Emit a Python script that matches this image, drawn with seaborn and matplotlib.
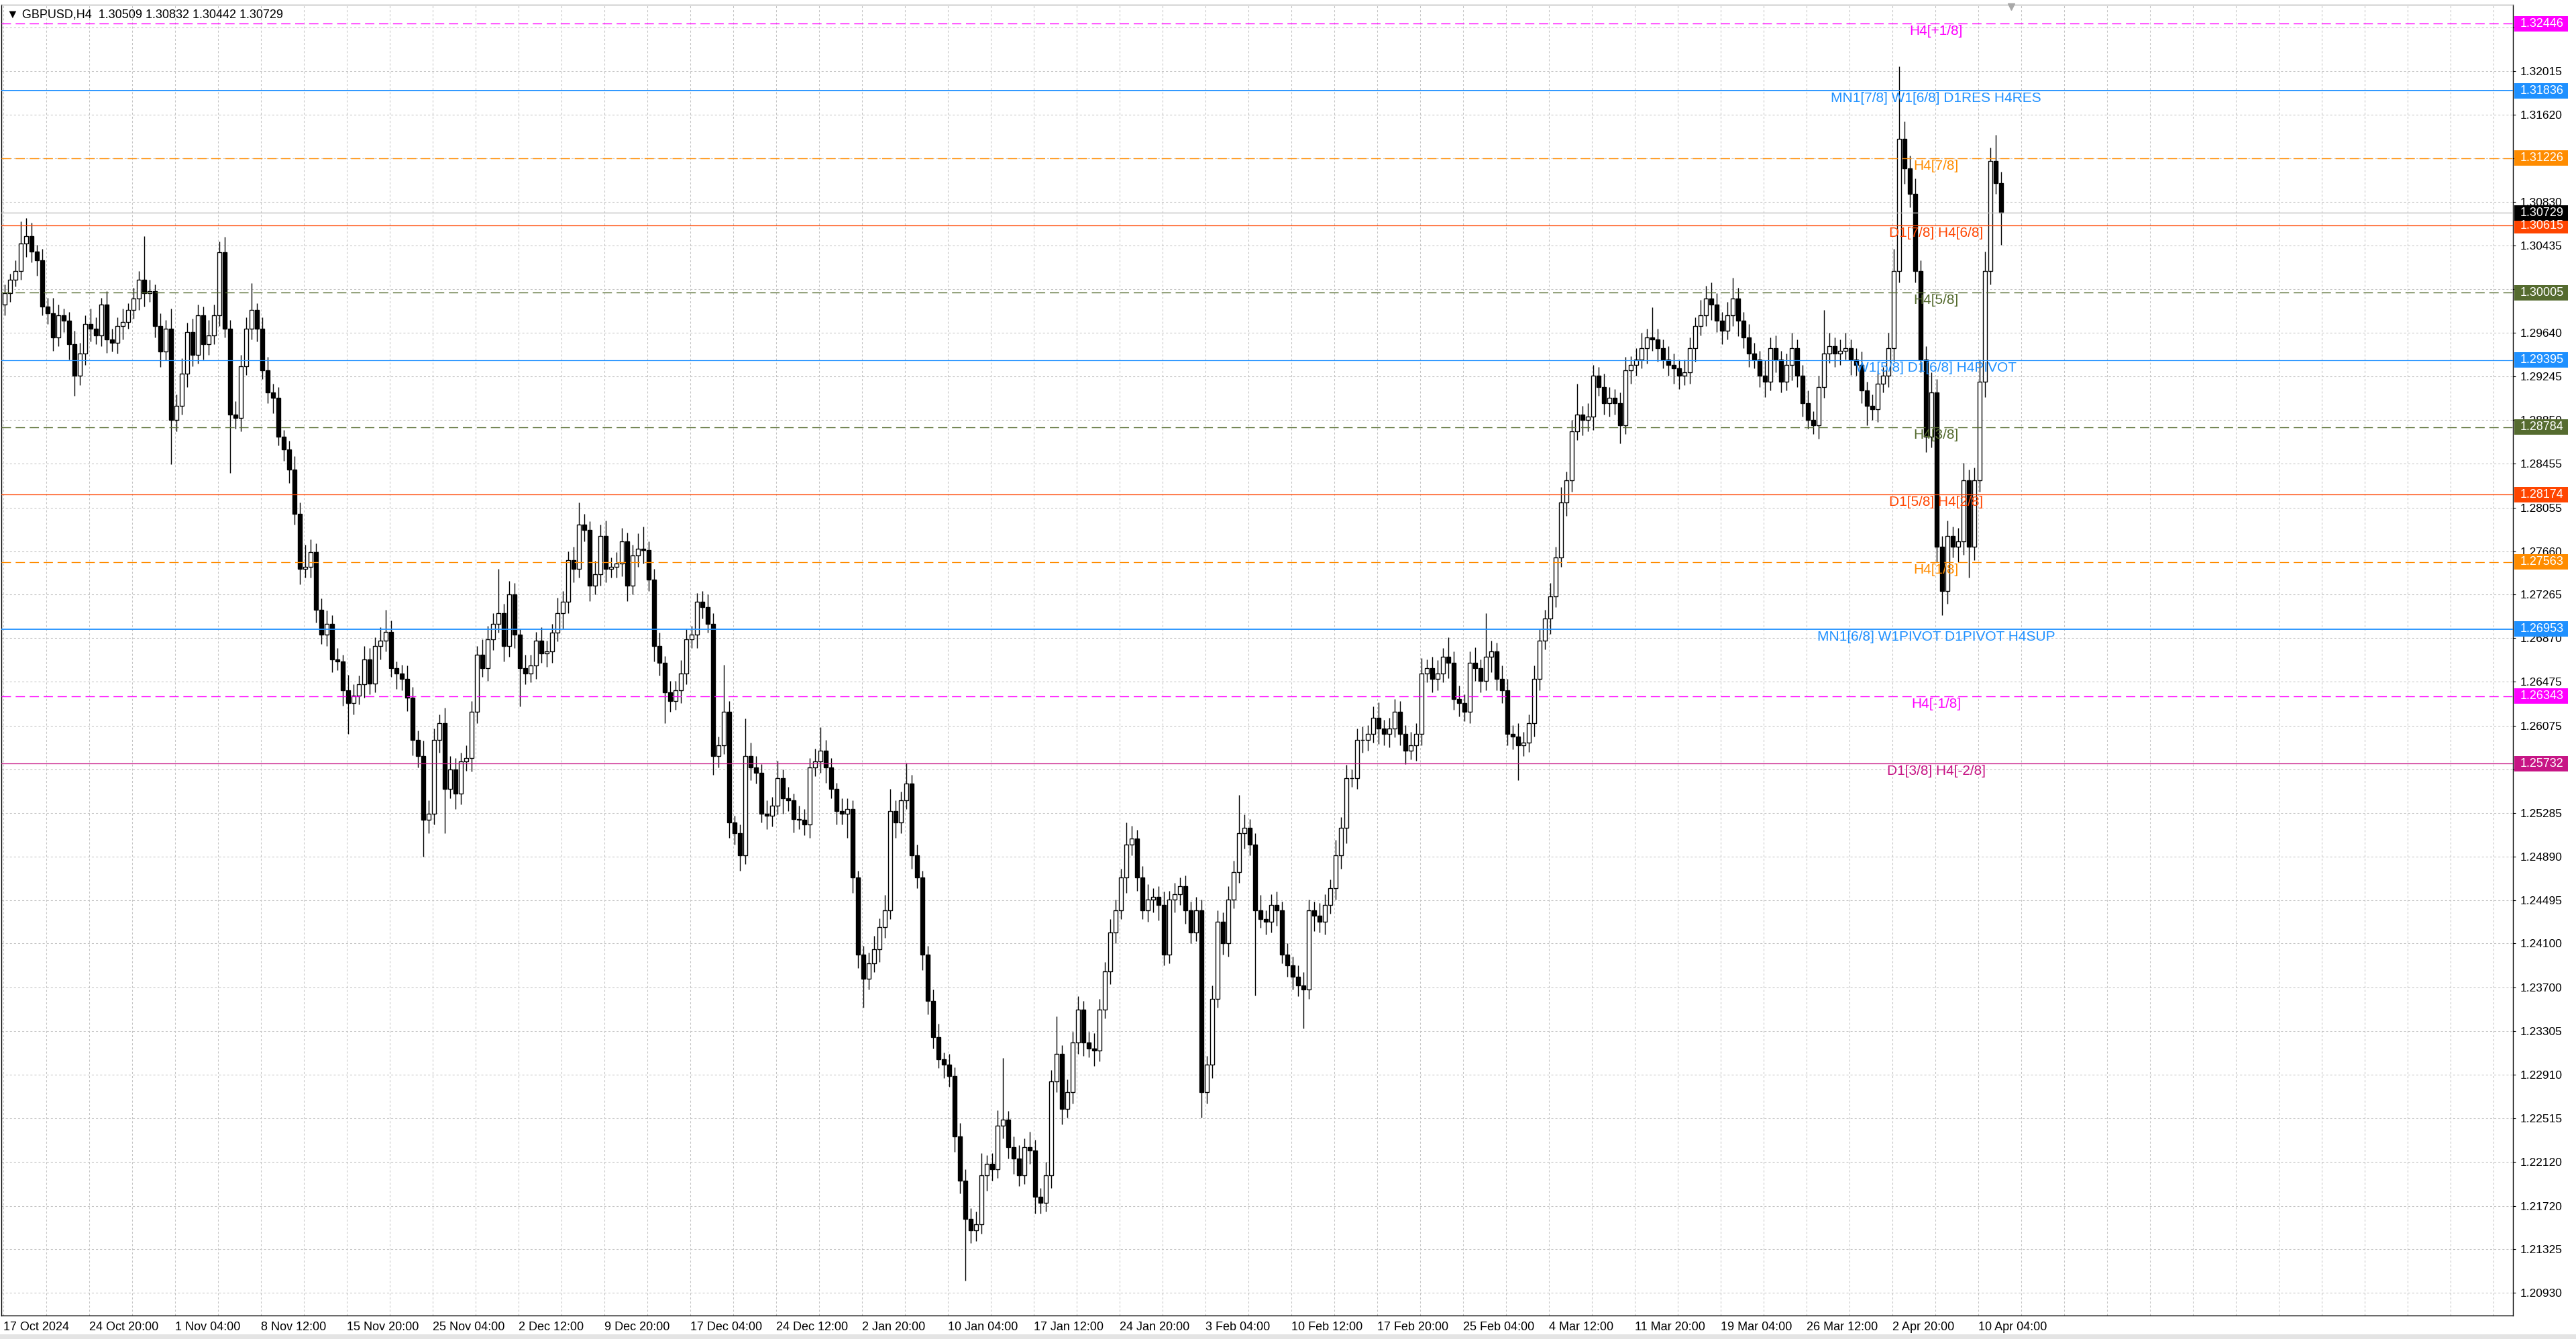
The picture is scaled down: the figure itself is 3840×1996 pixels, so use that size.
import matplotlib
matplotlib.use("Agg")
import matplotlib.pyplot as plt
import matplotlib.transforms as mtransforms
from matplotlib.patches import Rectangle
import numpy as np
import pandas as pd
import seaborn as sns

# GBPUSD, candles of 8 hours, closes in 0.0001 above 1.2000
first_open = 990
close_pips = [
    1000, 1012, 1020, 1045, 1052, 1038, 1030, 988, 982, 960, 980, 975, 954, 925, 945, 972, 968, 962, 990, 958,
    955, 970, 974, 985, 995, 1012, 1000, 1002, 970, 947, 968, 885, 898, 927, 965, 944, 980, 954, 962, 980,
    1037, 968, 890, 887, 934, 968, 985, 968, 930, 910, 905, 870, 858, 840, 800, 750, 752, 765, 713, 690,
    700, 668, 666, 640, 628, 635, 645, 668, 646, 680, 685, 693, 660, 655, 650, 633, 595, 580, 522, 528,
    595, 610, 550, 568, 546, 575, 578, 620, 672, 660, 686, 700, 710, 680, 727, 690, 660, 655, 662, 685,
    673, 675, 692, 710, 720, 758, 750, 790, 785, 735, 745, 780, 750, 752, 755, 775, 735, 762, 768, 767,
    740, 680, 665, 638, 630, 640, 655, 686, 690, 720, 715, 700, 580, 590, 620, 520, 510, 490, 580, 570,
    565, 528, 526, 535, 560, 542, 540, 523, 522, 518, 570, 575, 585, 570, 550, 530, 528, 532, 470, 400,
    378, 392, 405, 425, 440, 530, 520, 540, 555, 490, 470, 400, 358, 325, 305, 300, 290, 235, 195, 160,
    150, 155, 200, 210, 205, 245, 250, 225, 215, 200, 225, 222, 180, 175, 200, 285, 310, 260, 275, 320,
    350, 320, 315, 313, 350, 385, 420, 440, 470, 500, 505, 470, 440, 450, 452, 445, 400, 450, 455, 462,
    440, 420, 440, 275, 300, 360, 430, 410, 450, 475, 510, 515, 500, 440, 432, 430, 445, 440, 400, 390,
    380, 372, 368, 440, 435, 430, 445, 460, 490, 515, 560, 560, 595, 595, 600, 615, 605, 600, 605, 620,
    600, 585, 590, 600, 655, 660, 650, 655, 670, 665, 632, 628, 620, 665, 660, 648, 670, 675, 650, 640,
    600, 598, 590, 592, 610, 650, 685, 705, 725, 760, 810, 830, 875, 890, 885, 888, 925, 915, 900, 905,
    900, 880, 930, 935, 940, 950, 960, 958, 950, 940, 935, 932, 925, 928, 950, 970, 980, 995, 990, 975,
    966, 980, 995, 975, 960, 945, 940, 925, 920, 950, 940, 920, 935, 950, 925, 900, 885, 880, 915, 945,
    952, 945, 948, 950, 940, 935, 912, 898, 895, 918, 925, 950, 1020, 1140, 1113, 1090, 1020, 940, 870, 910,
    770, 730, 780, 770, 775, 830, 770, 830, 920, 1020, 1120, 1100, 1073,
]
# upper / lower shadows in pips
wick_up = [
    8, 6, 10, 20, 16, 12, 6, 10, 8, 14, 10, 6, 8, 12, 10, 8, 14, 10, 6, 12,
    10, 8, 12, 6, 10, 8, 40, 10, 6, 12, 8, 18, 10, 14, 8, 12, 10, 8, 14, 10,
    10, 14, 8, 12, 10, 10, 24, 6, 10, 12, 8, 10, 6, 8, 12, 10, 20, 12, 8, 10,
    12, 8, 10, 6, 14, 10, 8, 12, 10, 8, 12, 20, 10, 6, 8, 12, 10, 8, 14, 12,
    10, 8, 14, 12, 10, 8, 12, 10, 8, 14, 12, 10, 40, 8, 12, 10, 6, 12, 10, 8,
    12, 10, 8, 14, 10, 8, 12, 20, 10, 8, 12, 10, 14, 8, 10, 12, 8, 10, 14, 20,
    8, 10, 12, 6, 10, 8, 12, 10, 8, 8, 10, 12, 10, 8, 43, 10, 6, 8, 34, 12,
    10, 8, 12, 8, 16, 8, 10, 6, 12, 10, 8, 12, 21, 10, 8, 6, 12, 10, 8, 6,
    8, 10, 12, 8, 14, 20, 10, 8, 19, 8, 10, 6, 8, 10, 12, 6, 10, 8, 12, 10,
    10, 12, 20, 8, 10, 14, 56, 8, 10, 12, 8, 14, 10, 8, 12, 10, 34, 8, 12, 10,
    12, 8, 10, 14, 10, 8, 12, 10, 8, 20, 12, 8, 10, 14, 8, 10, 12, 8, 10, 8,
    10, 8, 12, 10, 8, 12, 10, 8, 12, 10, 35, 12, 8, 10, 14, 8, 10, 12, 8, 10,
    8, 10, 12, 10, 8, 12, 10, 8, 14, 10, 12, 8, 10, 12, 8, 10, 14, 8, 10, 12,
    10, 8, 12, 10, 14, 8, 10, 12, 8, 18, 10, 12, 8, 10, 14, 8, 40, 10, 8, 12,
    10, 8, 12, 10, 8, 12, 10, 8, 12, 10, 14, 8, 10, 28, 8, 12, 10, 8, 12, 10,
    8, 10, 12, 8, 10, 14, 8, 27, 10, 8, 12, 10, 8, 12, 10, 8, 14, 12, 15, 10,
    8, 12, 19, 10, 8, 12, 10, 8, 14, 10, 12, 8, 10, 14, 8, 10, 12, 8, 10, 40,
    12, 8, 10, 14, 8, 10, 12, 8, 10, 12, 8, 14, 20, 66, 16, 12, 14, 10, 12, 18,
    12, 10, 14, 8, 12, 16, 10, 12, 20, 18, 12, 24, 10,
]
wick_dn = [
    10, 8, 6, 8, 12, 10, 14, 8, 10, 12, 8, 10, 14, 18, 8, 10, 12, 8, 10, 12,
    8, 10, 12, 6, 8, 10, 12, 8, 10, 14, 8, 40, 10, 8, 12, 10, 8, 14, 10, 8,
    10, 8, 53, 10, 12, 8, 10, 12, 8, 10, 14, 8, 10, 12, 10, 14, 8, 10, 12, 8,
    10, 12, 8, 14, 28, 10, 8, 12, 10, 8, 12, 10, 8, 14, 10, 12, 14, 10, 33, 12,
    10, 12, 40, 8, 14, 10, 8, 12, 10, 8, 12, 10, 8, 14, 10, 12, 35, 10, 8, 12,
    8, 12, 10, 8, 14, 10, 12, 8, 10, 14, 8, 10, 12, 8, 10, 12, 14, 8, 10, 12,
    10, 14, 12, 28, 10, 8, 12, 10, 8, 12, 10, 8, 17, 10, 8, 14, 10, 14, 8, 12,
    10, 8, 12, 10, 8, 14, 10, 12, 8, 10, 12, 8, 10, 14, 8, 12, 10, 22, 14, 12,
    26, 10, 8, 12, 10, 8, 14, 10, 8, 12, 10, 14, 12, 10, 8, 12, 10, 14, 12, 56,
    12, 10, 8, 14, 10, 8, 12, 10, 14, 10, 8, 12, 15, 10, 8, 12, 10, 14, 8, 10,
    10, 12, 8, 14, 10, 8, 12, 10, 8, 14, 10, 12, 8, 10, 12, 14, 10, 8, 12, 10,
    12, 10, 8, 23, 10, 12, 8, 10, 12, 8, 10, 14, 10, 77, 8, 12, 10, 14, 8, 10,
    12, 10, 35, 8, 14, 10, 12, 8, 10, 12, 14, 8, 10, 12, 10, 8, 14, 10, 12, 8,
    10, 12, 8, 14, 10, 8, 12, 10, 8, 14, 10, 12, 8, 10, 12, 10, 8, 14, 10, 12,
    10, 12, 32, 10, 8, 12, 10, 8, 14, 10, 8, 12, 10, 8, 14, 10, 12, 8, 10, 12,
    10, 16, 8, 12, 10, 8, 14, 10, 12, 8, 10, 14, 12, 8, 10, 12, 8, 10, 14, 10,
    12, 8, 10, 14, 10, 12, 8, 10, 14, 8, 12, 10, 8, 14, 10, 12, 8, 8, 12, 10,
    8, 12, 10, 8, 14, 10, 12, 18, 10, 12, 8, 10, 12, 10, 14, 12, 10, 12, 14, 10,
    14, 22, 12, 10, 14, 12, 28, 12, 10, 14, 12, 10, 29,
]

time_labels = ["17 Oct 2024", "24 Oct 20:00", "1 Nov 04:00", "8 Nov 12:00", "15 Nov 20:00",
               "25 Nov 04:00", "2 Dec 12:00", "9 Dec 20:00", "17 Dec 04:00", "24 Dec 12:00",
               "2 Jan 20:00", "10 Jan 04:00", "17 Jan 12:00", "24 Jan 20:00", "3 Feb 04:00",
               "10 Feb 12:00", "17 Feb 20:00", "25 Feb 04:00", "4 Mar 12:00", "11 Mar 20:00",
               "19 Mar 04:00", "26 Mar 12:00", "2 Apr 20:00", "10 Apr 04:00"]

price_ticks = [1.32410, 1.32015, 1.31620, 1.31225, 1.30830, 1.30435, 1.30035, 1.29640, 1.29245,
               1.28850, 1.28455, 1.28055, 1.27660, 1.27265, 1.26870, 1.26475, 1.26075, 1.25680,
               1.25285, 1.24890, 1.24495, 1.24100, 1.23700, 1.23305, 1.22910, 1.22515, 1.22120,
               1.21720, 1.21325, 1.20930]
# ticks whose label the terminal hides behind a level label
hidden_ticks = [1.32410, 1.31225, 1.25680]

level_prices = [1.32446, 1.31836, 1.31226, 1.30615, 1.30005, 1.29395,
                1.28784, 1.28174, 1.27563, 1.26953, 1.26343, 1.25732]
level_names = ["H4[+1/8]", "MN1[7/8] W1[6/8] D1RES H4RES", "H4[7/8]", "D1[7/8] H4[6/8]",
               "H4[5/8]", "W1[5/8] D1[6/8] H4PIVOT", "H4[3/8]", "D1[5/8] H4[2/8]",
               "H4[1/8]", "MN1[6/8] W1PIVOT D1PIVOT H4SUP", "H4[-1/8]", "D1[3/8] H4[-2/8]"]
level_colors = ["#FF00FF", "#1E90FF", "#FF8C00", "#FF4500", "#556B2F", "#1E90FF",
                "#556B2F", "#FF4500", "#FF8C00", "#1E90FF", "#FF00FF", "#C71585"]
level_styles = ["dash", "thick", "dash", "solid", "dash", "solid",
                "dash", "solid", "dash", "thick", "dash", "solid"]

last_price = 1.30729
header = "\u25BC GBPUSD,H4  1.30509 1.30832 1.30442 1.30729"

sns.set_style("white")
plt.rcParams['font.family'] = ['Liberation Sans', 'DejaVu Sans']
plt.rcParams['lines.scale_dashes'] = False

df = pd.DataFrame({"close": 1.2 + np.array(close_pips) / 10000.0})
df["open"] = df["close"].shift(1).fillna(1.2 + first_open / 10000.0)
df["high"] = df[["open", "close"]].max(axis=1) + np.array(wick_up) / 10000.0
df["low"] = df[["open", "close"]].min(axis=1) - np.array(wick_dn) / 10000.0
x = np.arange(len(df))

W, H = 3840, 1996
fig = plt.figure(figsize=(W / 100, H / 100), dpi=100)
ax = fig.add_axes([2 / W, 35 / H, 3744 / W, 1954 / H])
ax.set_xlim(-0.625, 467.375)
ax.set_ylim(1.20725, 1.32618)
ax.set_axisbelow(True)

# candles
ax.vlines(x, df["low"], df["high"], color="black", lw=1.0, zorder=2)
bull = (df["close"] >= df["open"]).values
ax.bar(x[bull], (df["close"] - df["open"])[bull], bottom=df["open"][bull], width=0.66,
       color="white", edgecolor="black", lw=1.0, zorder=2.5)
ax.bar(x[~bull], (df["open"] - df["close"])[~bull], bottom=df["close"][~bull], width=0.66,
       color="black", edgecolor="black", lw=1.0, zorder=2.5)

# grid and axes
grid_kw = dict(color="#C4C4C4", linestyle=(0, (2.2, 2.2)), lw=0.75)
ax.set_xticks([16 * k - 0.25 for k in range(len(time_labels))])
ax.set_xticklabels(time_labels, ha="left")
ax.set_xticks([8 * k - 0.25 for k in range(59)], minor=True)
ax.tick_params(axis="x", which="major", direction="out", length=3, width=0.8, pad=3.5,
               labelsize=13, colors="black")
ax.tick_params(axis="x", which="minor", length=0)
ax.grid(True, axis="x", which="both", **grid_kw)

ax.yaxis.tick_right()
ax.set_yticks(price_ticks)
ax.set_yticklabels(["" if t in hidden_ticks else f"{t:.5f}" for t in price_ticks])
ax.tick_params(axis="y", direction="out", length=3, width=0.8, pad=5, labelsize=12.5,
               colors="black")
ax.grid(True, axis="y", which="major", **grid_kw)

for side in ["left", "bottom", "right"]:
    ax.spines[side].set_color("black")
    ax.spines[side].set_linewidth(1.0)
ax.spines["top"].set_color("#9A9A9A")

# levels
ytrans = mtransforms.blended_transform_factory(ax.transAxes, ax.transData)
text_trans = mtransforms.offset_copy(ytrans, fig=fig, y=-2, units="dots")
half = 11.5 / 16430
for price, name, col, style in zip(level_prices, level_names, level_colors, level_styles):
    if style == "dash":
        ax.axhline(price, color=col, lw=1.0, ls=(0, (10, 5)), zorder=3)
    else:
        ax.axhline(price, color=col, lw=1.3 if style == "thick" else 0.9, zorder=3)
    ax.text(0.7703, price, name, transform=text_trans, ha="center", va="top",
            color=col, fontsize=15, zorder=4)

ax.axhline(last_price, color="#C0C0C0", lw=1.0, zorder=3)

box_prices = level_prices + [last_price]
box_colors = level_colors + ["black"]
for price, col in zip(box_prices, box_colors):
    ax.add_patch(Rectangle((1.00053, price - half), 80 / 3744, 2 * half, transform=ytrans,
                           facecolor=col, edgecolor="none", clip_on=False, zorder=6))
    ax.text(1.00294, price, f"{price:.5f}", transform=ytrans, ha="left", va="center",
            color="white", fontsize=13, zorder=7, clip_on=False)

# header and chart shift marker
fig.text(10 / W, 1 - 22 / H, header, ha="left", va="center", fontsize=13, color="black")
ax.plot([0.8002], [0.9985], marker="v", ms=7, color="#A8A8A8", transform=ax.transAxes,
        clip_on=False, zorder=8)
fig.patches.append(Rectangle((0, 0), 1, 7 / H, transform=fig.transFigure,
                             facecolor="#E4E4E4", edgecolor="none"))

fig.savefig("out.png", dpi=100)
plt.close(fig)
